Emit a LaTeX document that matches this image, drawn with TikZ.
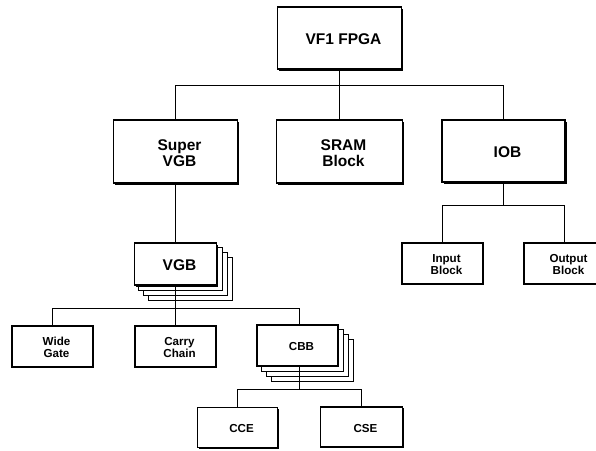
\documentclass[tikz,border=0pt]{standalone}
\usepackage{fontspec}
\setmainfont{Liberation Sans}
\usetikzlibrary{shadows,backgrounds}
\begin{document}
\begin{tikzpicture}[x=1pt,y=-1pt,
  bigbox/.style={draw, fill=white, line width=1.6pt,
    drop shadow={shadow xshift=1.6pt, shadow yshift=-1.6pt, opacity=1, fill=black}},
  smallbox/.style={draw, fill=white, line width=1.3pt,
    drop shadow={shadow xshift=1pt, shadow yshift=-1pt, opacity=1, fill=black},
    minimum width=81pt, minimum height=41pt},
  copybox/.style={draw, fill=white, line width=0.7pt},
  conn/.style={draw, line width=1.9pt},
  bigtag/.style={label={[font=\fontsize{15.5}{15.5}\selectfont\bfseries, align=center,
    xshift=4pt, yshift=-1.5pt]center:#1}},
  smalltag/.style={label={[font=\fontsize{11.6}{12.5}\selectfont\bfseries, align=center,
    xshift=4pt, yshift=-1pt]center:#1}}
]
\useasboundingbox (0,0) rectangle (596,450);

% top level
\node[bigbox, minimum width=124pt, minimum height=62pt, bigtag={VF1 FPGA}] (fpga) at (339.5,38) {};

% second level
\node[bigbox, minimum width=124pt, minimum height=63pt, bigtag={Super\\VGB}] (svgb) at (175.5,151.5) {};
\node[bigbox, minimum width=126pt, minimum height=63pt, bigtag={SRAM\\Block}] (sram) at (339.5,151.5) {};
\node[bigbox, minimum width=123pt, minimum height=62pt, bigtag={IOB}] (iob) at (503.5,151) {};

% IO blocks
\node[smallbox, smalltag={Input\\Block}] (inb) at (442.5,263.5) {};
\node[smallbox, smalltag={Output\\Block}] (outb) at (564.5,263.5) {};

% VGB and its parts
\node[bigbox, line width=1.4pt, minimum width=82pt, minimum height=42pt, bigtag={VGB}] (vgb) at (175.5,264) {};
\node[smallbox, smalltag={Wide\\Gate}] (wide) at (52.5,346.5) {};
\node[smallbox, smalltag={Carry\\Chain}] (carry) at (175.5,346.5) {};
\node[smallbox, smalltag={CBB}] (cbb) at (297.5,345.5) {};

% CBB parts
\node[smallbox, minimum width=80pt, minimum height=40pt, smalltag={CCE}] (cce) at (237.5,427.5) {};
\node[smallbox, minimum width=82pt, minimum height=40pt, smalltag={CSE}] (cse) at (361.5,427) {};

% bus points
\coordinate (b1) at (339.5,85.5);
\coordinate (b2) at (503.5,205.5);
\coordinate (b3) at (175.5,308.5);
\coordinate (b4) at (299.5,389.5);

% connectors
\draw[conn] (fpga.south) -- (b1);
\draw[conn] (b1) -| (svgb.north);
\draw[conn] (b1) -| (iob.north);
\draw[conn] (b1) -- (sram.north);

\draw[conn] (iob.south) -- (b2);
\draw[conn] (b2) -| (inb.north);
\draw[conn] (b2) -| (outb.north);

\draw[conn] (svgb.south) -- (vgb.north);

\draw[conn] (vgb.south) -- (b3);
\draw[conn] (b3) -| (wide.north);
\draw[conn] (b3) -- (carry.north);
\draw[conn] (b3) -| ([xshift=2pt]cbb.north);

\draw[conn] ([xshift=2pt]cbb.south) -- (b4);
\draw[conn] (b4) -| (cce.north);
\draw[conn] (b4) -| (cse.north);

% stacked copies behind VGB and CBB
\begin{scope}[on background layer]
  \fill[white] (0,0) rectangle (596,450);
  \foreach \d in {15,10,5} {
    \draw[copybox] ([shift={(\d,\d)}]vgb.north west) rectangle ([shift={(\d,\d)}]vgb.south east);
    \draw[copybox] ([shift={(\d,\d)}]cbb.north west) rectangle ([shift={(\d,\d)}]cbb.south east);
  }
\end{scope}
\end{tikzpicture}
\end{document}
